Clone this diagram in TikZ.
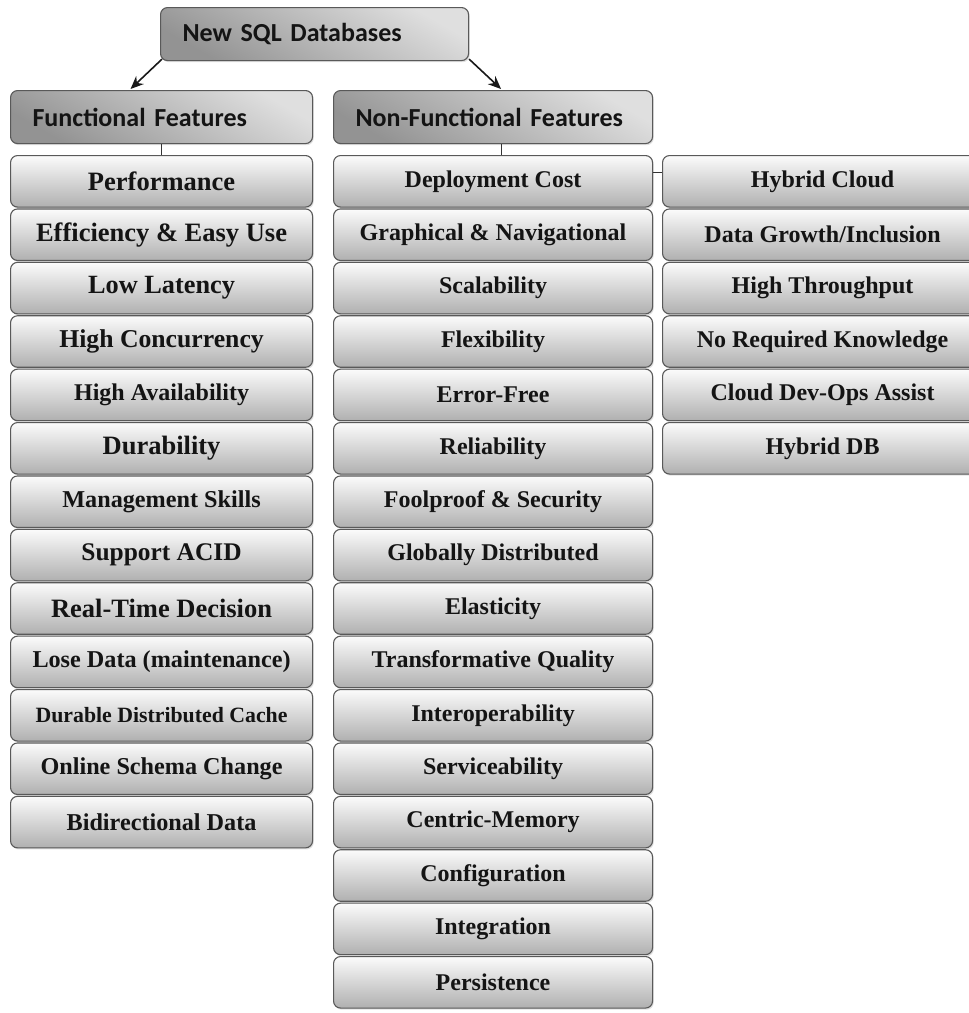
\documentclass[tikz,border=0pt]{standalone}
\usepackage{fontspec}
\setmainfont{Liberation Serif}
\newfontfamily\hdrfont{Carlito}
\usetikzlibrary{shadows,arrows.meta}
\begin{document}
\begin{tikzpicture}[x=1pt,y=-1pt,
  boxbase/.style={draw=gray!70!black, line width=1.1pt, rounded corners=7pt, anchor=north west, inner sep=0pt,
    drop shadow={shadow xshift=1.2pt, shadow yshift=-1.6pt, opacity=0.3, fill=gray!80}},
  itembox/.style={boxbase, top color=gray!3, middle color=gray!20, bottom color=gray!62,
    minimum height=51.5pt, text=black!92},
  hdrbox/.style={boxbase, top color=gray!25, bottom color=gray!85, shading angle=-30,
    minimum height=53pt, inner xsep=8pt, align=left, text=black!92,
    font=\hdrfont\bfseries\fontsize{26pt}{30pt}\selectfont},
  conn/.style={draw=black!80, line width=1pt},
  arr/.style={draw=black!90, line width=1.6pt, -{Stealth[length=13pt,width=11pt]}}
]
\useasboundingbox (0,0) rectangle (969,1013);
\fill[white] (0,0) rectangle (969,1013);

% headers
\node[hdrbox, minimum width=308pt, text width=292pt] (top) at (160,7) {\hspace*{14pt}New SQL Databases};
\node[hdrbox, minimum width=302pt, text width=286pt] (ff) at (10,90) {\hspace*{14pt}Functional Features};
\node[hdrbox, minimum width=319pt, text width=303pt] (nf) at (333,90) {\hspace*{14pt}Non-Functional Features};

% column 1
\foreach \s/\t [count=\i from 0] in {
  26.5/Performance,
  26.5/Efficiency \& Easy Use,
  26.3/Low Latency,
  25.7/High Concurrency,
  24/High Availability,
  26.5/Durability,
  24.2/Management Skills,
  25.4/Support ACID,
  26.5/Real-Time Decision,
  24.2/Lose Data (maintenance),
  21.8/Durable Distributed Cache,
  24.2/Online Schema Change,
  24.2/Bidirectional Data}{
  \node[itembox, minimum width=302pt, font=\bfseries\fontsize{\s pt}{\s pt}\selectfont] (a\i) at (10,155+53.4*\i) {\t};
}

% column 2
\foreach \t [count=\i from 0] in {
  Deployment Cost, Graphical \& Navigational, Scalability, Flexibility, Error-Free,
  Reliability, Foolproof \& Security, Globally Distributed, Elasticity,
  Transformative Quality, Interoperability, Serviceability, Centric-Memory,
  Configuration, Integration, Persistence}{
  \node[itembox, minimum width=319pt, font=\bfseries\fontsize{24pt}{26pt}\selectfont] (b\i) at (333,155+53.4*\i) {\t};
}

% column 3
\foreach \t [count=\i from 0] in {
  Hybrid Cloud, {Data Growth/Inclusion}, High Throughput, No Required Knowledge,
  Cloud Dev-Ops Assist, Hybrid DB}{
  \node[itembox, minimum width=320pt, font=\bfseries\fontsize{24pt}{26pt}\selectfont] (c\i) at (662,155+53.4*\i) {\t};
}

% connectors
\draw[arr] ([shift={(2pt,2pt)}]top.south west) -- ([shift={(-31pt,1pt)}]ff.north);
\draw[arr] ([shift={(0pt,2pt)}]top.south east) -- ([shift={(8pt,1pt)}]nf.north);
\draw[conn] (ff.south) -- (a0.north);
\draw[conn] ([xshift=8.5pt]nf.south) -- ([xshift=8.5pt]b0.north);
\draw[conn] ([yshift=9pt]b0.east) -- ([yshift=9pt]c0.west);
\end{tikzpicture}
\end{document}
